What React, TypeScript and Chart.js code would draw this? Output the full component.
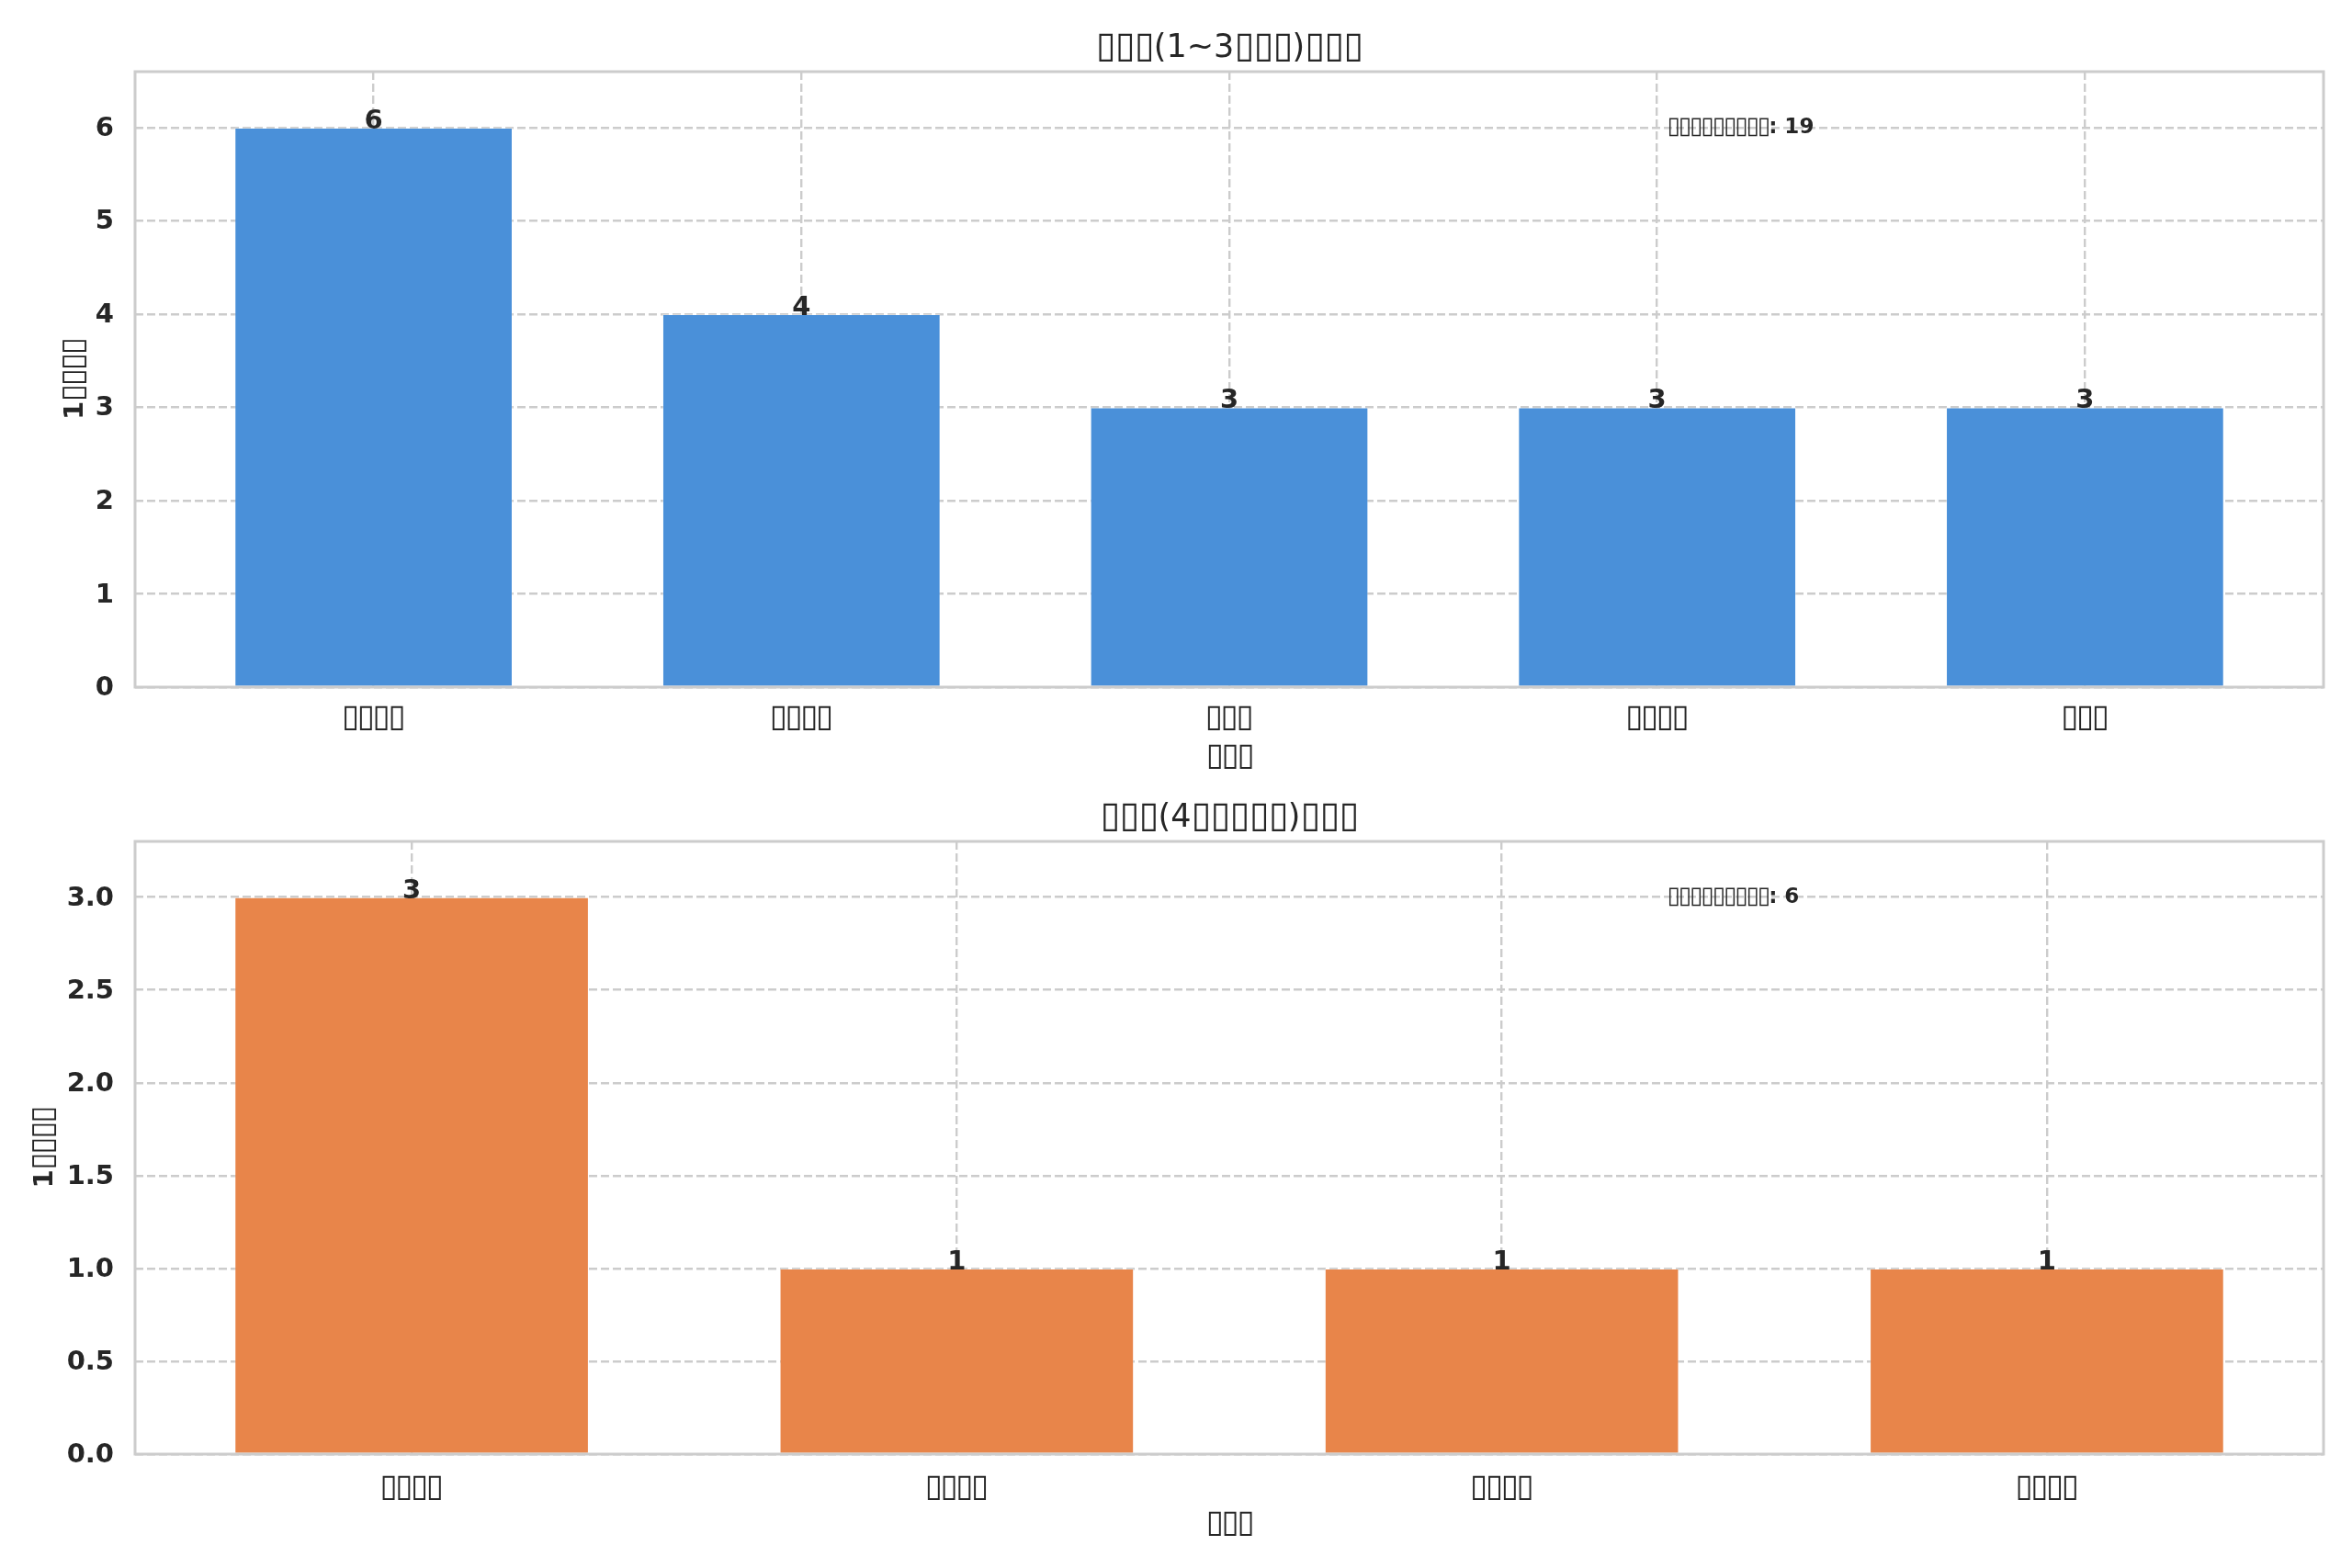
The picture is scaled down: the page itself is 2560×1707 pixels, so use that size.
import { useEffect, useRef } from 'react';
import { Chart, registerables } from 'chart.js';

Chart.register(...registerables);

const FONT = '"DejaVu Sans", sans-serif';
const TEXT = '#262626';
const GRID = '#cccccc';
const TOFU = '▯';

// Upper panel: 1~3 group
const topTitle = '▯▯▯(1~3▯▯▯)▯▯▯';
const topCategories = ['▯▯▯▯', '▯▯▯▯', '▯▯▯', '▯▯▯▯', '▯▯▯'];
const topCounts = [6, 4, 3, 3, 3];
const topYTicks = [0, 1, 2, 3, 4, 5, 6];
const topYTickLabels = ['0', '1', '2', '3', '4', '5', '6'];
const topYMax = 6.6;

// Lower panel: 4+ group
const bottomTitle = '▯▯▯(4▯▯▯▯▯)▯▯▯';
const bottomCategories = ['▯▯▯▯', '▯▯▯▯', '▯▯▯▯', '▯▯▯▯'];
const bottomCounts = [3, 1, 1, 1];
const bottomYTicks = [0, 0.5, 1, 1.5, 2, 2.5, 3];
const bottomYTickLabels = ['0.0', '0.5', '1.0', '1.5', '2.0', '2.5', '3.0'];
const bottomYMax = 3.3;

const xTitle = '▯▯▯';
const yTitle = '1▯▯▯▯';
const totalLabel = '▯▯▯▯▯▯▯▯▯';

type Run = { font: string; spacing: number };

// draw text where the missing-glyph boxes use their own size/spacing
function drawMixed(ctx: any, text: string, x: number, y: number, align: 'left' | 'center', plain: Run, box: Run) {
  const runs: { s: string; r: Run }[] = [];
  for (const ch of text) {
    const r = ch === TOFU ? box : plain;
    if (runs.length && runs[runs.length - 1].r === r) runs[runs.length - 1].s += ch;
    else runs.push({ s: ch, r });
  }
  ctx.letterSpacing = '0px';
  const widths = runs.map(({ s, r }) => {
    ctx.font = r.font;
    return ctx.measureText(s).width + r.spacing * [...s].length;
  });
  const total = widths.reduce((a, b) => a + b, 0);
  let cx = align === 'center' ? x - total / 2 : x;
  ctx.textAlign = 'left';
  ctx.textBaseline = 'alphabetic';
  runs.forEach(({ s, r }, i) => {
    ctx.font = r.font;
    ctx.letterSpacing = `${r.spacing}px`;
    ctx.fillText(s, cx, y);
    cx += widths[i];
  });
  ctx.letterSpacing = '0px';
}

type PanelProps = {
  title: string;
  categories: string[];
  counts: number[];
  yTicks: number[];
  yTickLabels: string[];
  yMax: number;
  color: string;
  height: number;
  plotTop: number;
  titleBase: number;
  axisHeight: number;
  tickPad: number;
  yTitleBase: number;
};

function BarPanel(p: PanelProps) {
  const canvasRef = useRef<HTMLCanvasElement>(null);

  useEffect(() => {
    if (!canvasRef.current) return;
    const n = p.categories.length;
    const half = 0.65 / 2;
    const span = n - 1 + 0.65;
    const total = p.counts.reduce((a, b) => a + b, 0);

    const panelDecor = {
      id: 'panelDecor',
      beforeDraw(chart: Chart) {
        // x tick labels and x title are pure boxes: tighten them
        (chart.ctx as any).letterSpacing = '-2.5px';
      },
      afterDatasetsDraw(chart: Chart) {
        const { ctx, chartArea: a } = chart;
        const c = ctx as any;
        ctx.save();
        c.letterSpacing = '0px';
        ctx.fillStyle = TEXT;
        // value labels on bars
        ctx.font = `bold 29px ${FONT}`;
        ctx.textAlign = 'center';
        ctx.textBaseline = 'alphabetic';
        chart.getDatasetMeta(0).data.forEach((bar: any, i) => {
          ctx.fillText(String(p.counts[i]), bar.x, bar.y + 1);
        });
        // total note
        const ys = chart.scales.y;
        drawMixed(
          c,
          `${totalLabel}: ${total}`,
          a.left + 0.7 * (a.right - a.left),
          ys.getPixelForValue(Math.max(...p.counts)) + 6,
          'left',
          { font: `bold 23px ${FONT}`, spacing: 0 },
          { font: `26px ${FONT}`, spacing: -2 },
        );
        // title
        drawMixed(
          c,
          p.title,
          (a.left + a.right) / 2,
          p.titleBase,
          'center',
          { font: `35px ${FONT}`, spacing: 0 },
          { font: `39.5px ${FONT}`, spacing: -0.7 },
        );
        // y title
        ctx.save();
        ctx.translate(p.yTitleBase, (a.top + a.bottom) / 2);
        ctx.rotate(-Math.PI / 2);
        drawMixed(
          c,
          yTitle,
          0,
          0,
          'center',
          { font: `bold 29px ${FONT}`, spacing: 0 },
          { font: `34px ${FONT}`, spacing: -1.7 },
        );
        ctx.restore();
        // frame
        ctx.strokeStyle = GRID;
        ctx.lineWidth = 3;
        ctx.strokeRect(a.left, a.top, a.right - a.left, a.bottom - a.top);
        ctx.restore();
        // y tick labels (drawn after this, z = 1) get normal spacing
        c.letterSpacing = '0px';
      },
      afterDraw(chart: Chart) {
        (chart.ctx as any).letterSpacing = '0px';
      },
    };

    const chart = new Chart(canvasRef.current, {
      type: 'bar',
      data: {
        datasets: [
          {
            data: p.counts.map((v, i) => ({ x: i, y: v })),
            backgroundColor: p.color,
            borderColor: 'rgba(255,255,255,0.3)',
            borderWidth: 1,
            barPercentage: 0.65,
            categoryPercentage: 1,
          },
        ],
      },
      options: {
        animation: false,
        responsive: false,
        devicePixelRatio: 1,
        layout: { padding: { left: 0, right: 31, top: p.plotTop, bottom: 0 } },
        plugins: {
          legend: { display: false },
          tooltip: { enabled: false },
          title: { display: false },
        },
        scales: {
          x: {
            type: 'linear',
            offset: false,
            min: -half - 0.05 * span,
            max: n - 1 + half + 0.05 * span,
            afterBuildTicks: (s: any) => {
              s.ticks = p.categories.map((_, i) => ({ value: i }));
            },
            afterFit: (s: any) => {
              s.height = p.axisHeight;
            },
            ticks: {
              autoSkip: false,
              maxRotation: 0,
              padding: p.tickPad,
              labelOffset: -1,
              color: TEXT,
              font: { family: FONT, size: 35, lineHeight: 1.2 },
              callback: (v: any) => p.categories[v] ?? '',
            },
            grid: { color: GRID, lineWidth: 2.4, drawTicks: false, offset: false },
            border: { display: false, dash: [9, 4] },
            title: {
              display: true,
              text: xTitle,
              color: TEXT,
              font: { family: FONT, size: 35, lineHeight: 1.2 },
              padding: { top: 0, bottom: p.axisHeight - 96.5 },
            },
          },
          y: {
            min: 0,
            max: p.yMax,
            afterBuildTicks: (s: any) => {
              s.ticks = p.yTicks.map((v) => ({ value: v }));
            },
            afterFit: (s: any) => {
              s.width = 147;
            },
            ticks: {
              z: 1,
              padding: 23,
              labelOffset: 1.5,
              color: TEXT,
              font: { family: FONT, size: 29, weight: 'bold' },
              callback: (_v: any, i: number) => p.yTickLabels[i],
            },
            grid: { color: GRID, lineWidth: 2.4, drawTicks: false },
            border: { display: false, dash: [9, 4] },
            title: { display: false },
          },
        },
      },
      plugins: [panelDecor],
    });

    return () => {
      chart.destroy();
    };
  }, [p]);

  return <canvas ref={canvasRef} width={2560} height={p.height} style={{ display: 'block' }} />;
}

const topProps: PanelProps = {
  title: topTitle,
  categories: topCategories,
  counts: topCounts,
  yTicks: topYTicks,
  yTickLabels: topYTickLabels,
  yMax: topYMax,
  color: '#4a90d9',
  height: 853,
  plotTop: 78,
  titleBase: 62,
  axisHeight: 105,
  tickPad: 12.5,
  yTitleBase: 90,
};

const bottomProps: PanelProps = {
  title: bottomTitle,
  categories: bottomCategories,
  counts: bottomCounts,
  yTicks: bottomYTicks,
  yTickLabels: bottomYTickLabels,
  yMax: bottomYMax,
  color: '#e8854a',
  height: 854,
  plotTop: 63,
  titleBase: 47,
  axisHeight: 124,
  tickPad: 15.5,
  yTitleBase: 57,
};

export default function App() {
  return (
    <div style={{ position: 'absolute', left: 0, top: 0, width: 2560, height: 1707, background: '#ffffff' }}>
      <BarPanel {...topProps} />
      <BarPanel {...bottomProps} />
    </div>
  );
}
